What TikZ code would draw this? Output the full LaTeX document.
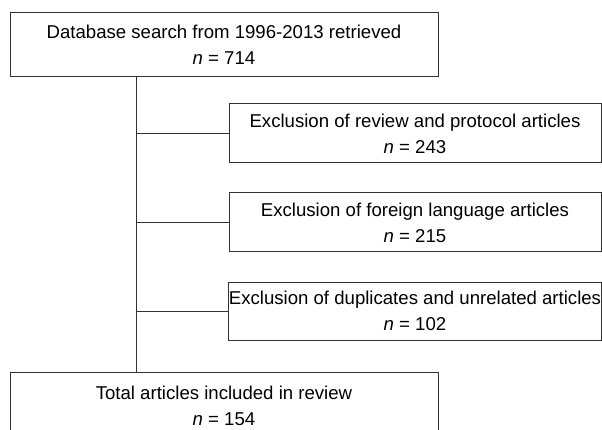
\documentclass[tikz,border=0pt]{standalone}
\usepackage{fontspec}
\setmainfont{Liberation Sans}
\begin{document}
\begin{tikzpicture}[x=1pt,y=-1pt,
  box/.style={draw=black!80, line width=1pt, inner sep=0pt, align=center,
    font=\fontsize{18.6}{26}\selectfont},
  link/.style={draw=black!80, line width=1pt}]
\useasboundingbox (0,0) rectangle (602,430);
\clip (0,0) rectangle (602,430);

\node[box, minimum width=428, minimum height=64] (search) at (224,45)
  {Database search from 1996-2013 retrieved\\\textit{n} = 714};

\node[box, minimum width=372, minimum height=59] (review) at (415,133.5)
  {Exclusion of review and protocol articles\\\textit{n} = 243};
\node[box, minimum width=372, minimum height=59] (foreign) at (415,222.5)
  {Exclusion of foreign language articles\\\textit{n} = 215};
\node[box, minimum width=372, minimum height=58] (dupl) at (415,311)
  {Exclusion of duplicates and unrelated articles\\\textit{n} = 102};

\node[box, minimum width=428, minimum height=68] (total) at (224,406)
  {Total articles included in review\\\textit{n} = 154};

\coordinate (trunk) at (136,0);
\draw[link] (search.south -| trunk) -- (total.north -| trunk);
\draw[link] (review.west) -- (review.west -| trunk);
\draw[link] (foreign.west) -- (foreign.west -| trunk);
\draw[link] (dupl.west) -- (dupl.west -| trunk);
\end{tikzpicture}
\end{document}
